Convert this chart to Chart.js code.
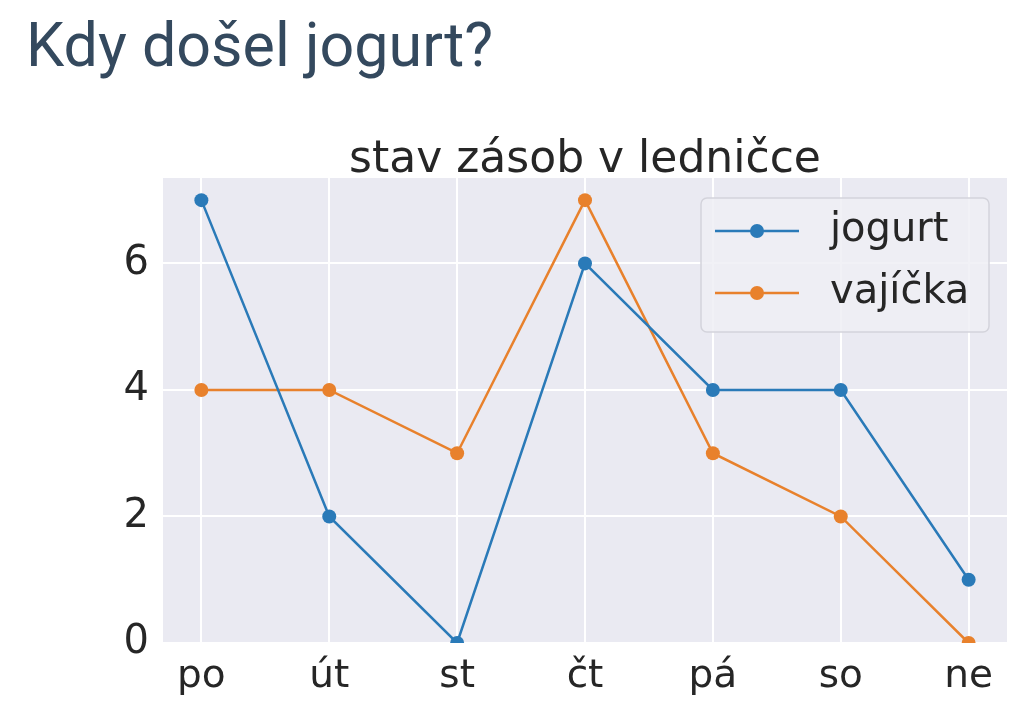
<!DOCTYPE html>
<html>
<head>
<meta charset="utf-8">
<script src="https://cdn.jsdelivr.net/npm/chart.js@4"></script>
<style>
  body { margin: 0; background: #fff; }
  #wrap { position: relative; width: 1030px; height: 715px; }
  h1 {
    position: absolute; left: 26px; top: 0; margin: 0;
    font-family: Roboto, sans-serif; font-weight: 400; font-size: 61px;
    line-height: 90px; color: #34495e;
  }
  canvas { position: absolute; left: 0; top: 0; }
</style>
</head>
<body>
<div id="wrap">
  <canvas id="graf" width="1030" height="715"></canvas>
  <h1>Kdy došel jogurt?</h1>
</div>
<script>
const dny = ['po', 'út', 'st', 'čt', 'pá', 'so', 'ne'];
const jogurt = [7, 2, 0, 6, 4, 4, 1];
const vajicka = [4, 4, 3, 7, 3, 2, 0];
const yTicks = [0, 2, 4, 6];
const podtitulek = 'stav zásob v ledničce';

const modra = '#2a7ab8';
const oranzova = '#e8812c';
const font = '"DejaVu Sans", sans-serif';

const pozadi = {
  id: 'pozadi',
  beforeDraw(chart) {
    const { ctx, chartArea: a } = chart;
    ctx.save();
    ctx.fillStyle = '#eaeaf2';
    ctx.fillRect(a.left, a.top, a.right - a.left, a.bottom - a.top);
    // nadpis grafu vycentrovaný nad plochou grafu
    ctx.fillStyle = '#262626';
    ctx.font = '44px ' + font;
    ctx.textAlign = 'center';
    ctx.textBaseline = 'alphabetic';
    ctx.fillText(podtitulek, (a.left + a.right) / 2, a.top - 6);
    ctx.restore();
  }
};

// legenda vpravo nahoře uvnitř grafu
const legenda = {
  id: 'legenda',
  afterDraw(chart) {
    const { ctx, chartArea: a } = chart;
    const x0 = a.right - 306, y0 = a.top + 20, w = 288, h = 134;
    ctx.save();
    ctx.beginPath();
    ctx.roundRect(x0, y0, w, h, 6);
    ctx.fillStyle = 'rgba(238,238,244,0.85)';
    ctx.fill();
    ctx.strokeStyle = '#d3d3db';
    ctx.lineWidth = 1.5;
    ctx.stroke();
    ctx.font = '40px ' + font;
    ctx.textBaseline = 'middle';
    chart.data.datasets.forEach((ds, i) => {
      const y = y0 + 33 + i * 62;
      ctx.strokeStyle = ds.borderColor;
      ctx.lineWidth = 2.5;
      ctx.beginPath();
      ctx.moveTo(x0 + 14, y);
      ctx.lineTo(x0 + 98, y);
      ctx.stroke();
      ctx.fillStyle = ds.borderColor;
      ctx.beginPath();
      ctx.arc(x0 + 56, y, 7, 0, Math.PI * 2);
      ctx.fill();
      ctx.fillStyle = '#262626';
      ctx.fillText(ds.label, x0 + 129, y);
    });
    ctx.restore();
  }
};

const ctx = document.getElementById('graf').getContext('2d');

const data = {
  datasets: [{
    label: 'jogurt',
    data: jogurt.map((v, i) => ({ x: i, y: v })),
    borderColor: modra,
    backgroundColor: modra,
  }, {
    label: 'vajíčka',
    data: vajicka.map((v, i) => ({ x: i, y: v })),
    borderColor: oranzova,
    backgroundColor: oranzova,
  }]
};

const options = {
  responsive: false,
  animation: false,
  layout: { padding: { left: 0, right: 23, top: 178, bottom: 0 } },
  elements: {
    line: { borderWidth: 2.5, tension: 0 },
    point: { radius: 7, borderWidth: 0, hoverRadius: 7 }
  },
  datasets: { line: { clip: 0 } },
  plugins: {
    legend: { display: false },
    tooltip: { enabled: false },
    title: { display: false }
  },
  scales: {
    x: {
      type: 'linear',
      min: -0.3,
      max: 6.3,
      afterBuildTicks(scale) { scale.ticks = dny.map((d, i) => ({ value: i })); },
      afterFit(scale) { scale.height = 72; },
      ticks: {
        callback: v => dny[v],
        color: '#262626',
        font: { family: font, size: 39 },
        padding: 10,
        maxRotation: 0,
        autoSkip: false
      },
      grid: { color: '#ffffff', lineWidth: 2, drawTicks: false },
      border: { display: false }
    },
    y: {
      min: 0,
      max: 7.35,
      afterBuildTicks(scale) { scale.ticks = yTicks.map(v => ({ value: v })); },
      afterFit(scale) { scale.width = 163; },
      ticks: {
        color: '#262626',
        font: { family: font, size: 40 },
        padding: 14
      },
      grid: { color: '#ffffff', lineWidth: 2, drawTicks: false },
      border: { display: false }
    }
  }
};

new Chart(ctx, {
  type: 'line',
  data: data,
  options: options,
  plugins: [pozadi, legenda]
});
</script>
</body>
</html>
